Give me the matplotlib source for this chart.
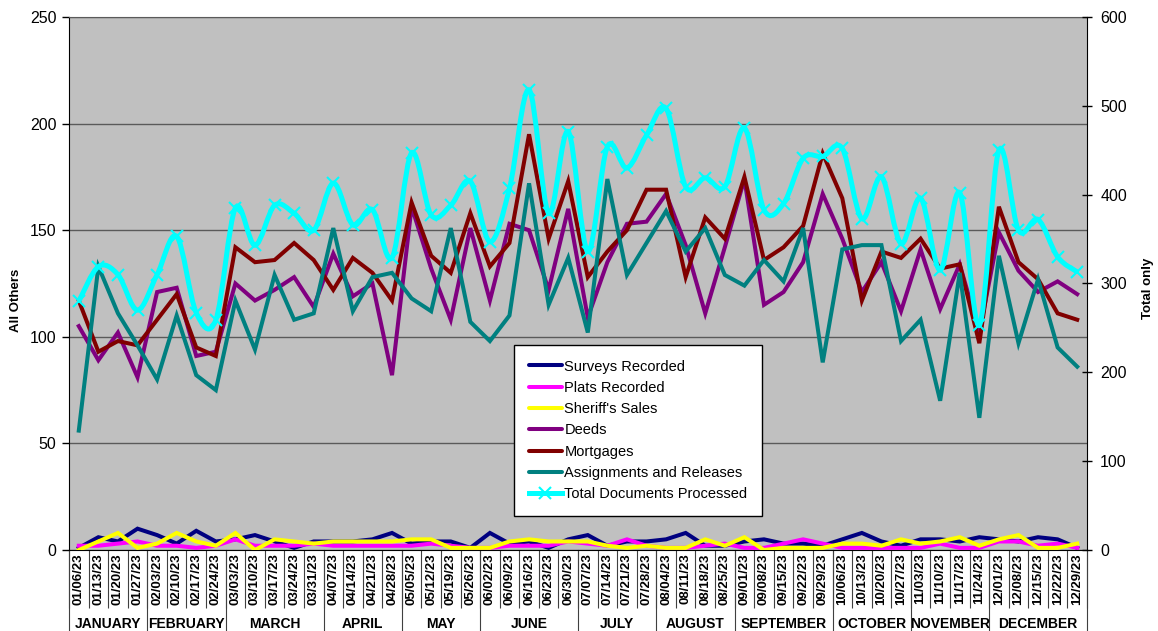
import matplotlib
matplotlib.use('Agg')
import matplotlib.pyplot as plt
from matplotlib.path import Path
from matplotlib.patches import PathPatch
from matplotlib.lines import Line2D
import numpy as np

plt.rcParams['font.family'] = ['Liberation Sans', 'DejaVu Sans']

weeks = ['01/06/23', '01/13/23', '01/20/23', '01/27/23',
         '02/03/23', '02/10/23', '02/17/23', '02/24/23',
         '03/03/23', '03/10/23', '03/17/23', '03/24/23', '03/31/23',
         '04/07/23', '04/14/23', '04/21/23', '04/28/23',
         '05/05/23', '05/12/23', '05/19/23', '05/26/23',
         '06/02/23', '06/09/23', '06/16/23', '06/23/23', '06/30/23',
         '07/07/23', '07/14/23', '07/21/23', '07/28/23',
         '08/04/23', '08/11/23', '08/18/23', '08/25/23',
         '09/01/23', '09/08/23', '09/15/23', '09/22/23', '09/29/23',
         '10/06/23', '10/13/23', '10/20/23', '10/27/23',
         '11/03/23', '11/10/23', '11/17/23', '11/24/23',
         '12/01/23', '12/08/23', '12/15/23', '12/22/23', '12/29/23']
months = ['JANUARY', 'FEBRUARY', 'MARCH', 'APRIL', 'MAY', 'JUNE', 'JULY',
          'AUGUST', 'SEPTEMBER', 'OCTOBER', 'NOVEMBER', 'DECEMBER']
month_weeks = [4, 4, 5, 4, 4, 5, 4, 4, 5, 4, 4, 5]

surveys = [1, 6, 4, 10, 7, 3, 9, 4, 5, 7, 4, 1, 4, 4, 4, 5, 8, 3, 4, 4, 1, 8, 3, 4, 1, 5,
           7, 2, 4, 4, 5, 8, 2, 2, 4, 5, 3, 3, 2, 5, 8, 4, 2, 5, 5, 4, 6, 5, 4, 6, 5, 1]
plats = [2, 2, 3, 4, 2, 2, 1, 2, 5, 2, 2, 2, 3, 2, 2, 2, 2, 2, 3, 2, 1, 1, 2, 2, 2, 4,
         3, 2, 5, 2, 1, 1, 2, 3, 1, 1, 3, 5, 3, 1, 1, 1, 1, 1, 3, 1, 1, 4, 4, 2, 3, 1]
sheriff = [0, 4, 8, 1, 3, 8, 4, 2, 8, 0, 5, 4, 3, 4, 4, 4, 4, 5, 5, 1, 1, 1, 4, 5, 4, 4,
           4, 2, 1, 2, 1, 1, 5, 2, 6, 0, 1, 1, 1, 3, 3, 2, 5, 3, 4, 6, 2, 5, 7, 1, 1, 3]
deeds = [105, 89, 102, 81, 121, 123, 91, 93, 125, 117, 122, 128, 114, 139, 119, 125, 82,
         161, 132, 108, 151, 117, 153, 150, 122, 160, 109, 135, 153, 154, 167, 143, 111,
         142, 174, 115, 121, 135, 167, 146, 121, 135, 112, 141, 113, 134, 102, 149, 131,
         121, 126, 120]
mortgages = [117, 93, 98, 96, 108, 120, 95, 91, 142, 135, 136, 144, 136, 122, 137, 130,
             117, 163, 138, 130, 158, 133, 144, 195, 146, 173, 128, 140, 150, 169, 169,
             128, 156, 146, 175, 136, 142, 152, 186, 165, 117, 140, 137, 146, 132, 134,
             97, 161, 135, 127, 111, 108]
assignments = [56, 133, 111, 96, 80, 110, 82, 75, 117, 94, 129, 108, 111, 151, 112, 128,
               130, 118, 112, 151, 107, 98, 110, 172, 115, 137, 102, 174, 129, 144, 159,
               140, 151, 129, 124, 136, 126, 151, 88, 141, 143, 143, 98, 108, 70, 130, 62,
               138, 97, 127, 95, 86]
total = [280, 319, 310, 270, 310, 353, 267, 259, 385, 343, 388, 379, 360, 413, 366, 383,
         329, 447, 377, 388, 415, 347, 407, 518, 379, 471, 336, 454, 430, 467, 497, 409,
         419, 409, 475, 383, 390, 441, 443, 452, 373, 420, 345, 396, 315, 402, 253, 450,
         360, 372, 330, 313]

W, H = 1158, 631
fig = plt.figure(figsize=(W / 100, H / 100), dpi=100)
fig.patch.set_facecolor('white')
L, R, T, B = 69, 1087, 17, 550
ax = fig.add_axes([L / W, 1 - B / H, (R - L) / W, (B - T) / H])
ax.set_facecolor('#C0C0C0')
ax2 = ax.twinx()

x = np.arange(len(weeks))
lw = 2.9
series = [
    ('Surveys Recorded', surveys, '#000080'),
    ('Plats Recorded', plats, '#FF00FF'),
    ("Sheriff's Sales", sheriff, '#FFFF00'),
    ('Deeds', deeds, '#800080'),
    ('Mortgages', mortgages, '#800000'),
    ('Assignments and Releases', assignments, '#008080'),
]
handles = []
for name, vals, col in series:
    ax.plot(x, vals, color=col, lw=lw, solid_joinstyle='miter', zorder=3)
    handles.append(Line2D([], [], color=col, lw=lw, solid_capstyle='round'))


def smooth_path(xs, ys):
    pts = np.column_stack([xs, ys]).astype(float)
    n = len(pts)
    verts = [pts[0]]
    codes = [Path.MOVETO]
    for i in range(n - 1):
        p0 = pts[i - 1] if i > 0 else pts[i]
        p1 = pts[i]
        p2 = pts[i + 1]
        p3 = pts[i + 2] if i + 2 < n else pts[i + 1]
        verts += [p1 + (p2 - p0) / 6, p2 - (p3 - p1) / 6, p2]
        codes += [Path.CURVE4] * 3
    return Path(verts, codes)


cyan = '#00FFFF'
ax2.add_patch(PathPatch(smooth_path(x, total), facecolor='none', edgecolor=cyan,
                        lw=3.6, zorder=3))
ax2.plot(x, total, linestyle='none', marker='x', color=cyan, ms=9, mew=1.5, zorder=4)
handles.append(Line2D([], [], color=cyan, lw=3.6, marker='x', ms=8, mew=1.5))

ax.set_xlim(-0.5, len(weeks) - 0.5)
ax.set_ylim(0, 250)
ax2.set_ylim(0, 600)
ax.set_yticks(np.arange(0, 251, 50))
ax2.set_yticks(np.arange(0, 601, 100))
ax.tick_params(axis='y', labelsize=11.5, length=5, width=1, direction='out', pad=4)
ax2.tick_params(axis='y', labelsize=11.5, length=7, width=1, direction='inout', pad=6)

ax.yaxis.grid(True, color='#5a5a5a', lw=1)
ax.set_axisbelow(True)

ax.set_xticks(x)
ax.set_xticklabels(weeks, rotation=90, fontweight='bold', fontsize=9.5)
ax.tick_params(axis='x', which='major', length=0, pad=2.5)
ax.set_xticks(np.arange(-0.5, len(weeks), 1), minor=True)
ax.tick_params(axis='x', which='minor', length=42, width=0.8, color='#404040',
               direction='out')

for sp in ['left', 'bottom']:
    ax.spines[sp].set_color('black')
ax.spines['top'].set_color('#5a5a5a')
ax.spines['right'].set_visible(False)
for sp in ['left', 'top', 'bottom']:
    ax2.spines[sp].set_visible(False)
ax2.spines['right'].set_color('black')

trans = ax.get_xaxis_transform()
bounds = np.concatenate([[0], np.cumsum(month_weeks)])
for b in bounds:
    ax.plot([b - 0.5, b - 0.5], [0, -0.16], transform=trans, clip_on=False,
            color='#404040', lw=0.8)
for i, m in enumerate(months):
    c = (bounds[i] + bounds[i + 1] - 1) / 2
    ax.text(c, -0.138, m, transform=trans, ha='center', va='center',
            fontweight='bold', fontsize=10)

fig.text(16 / W, 1 - 300 / H, 'All Others', rotation=90, ha='center', va='center',
         fontweight='bold', fontsize=9.5)
fig.text(1148 / W, 1 - 288 / H, 'Total only', rotation=90, ha='center', va='center',
         fontweight='bold', fontsize=9.5)

labels = [s[0] for s in series] + ['Total Documents Processed']
leg = ax2.legend(handles, labels, loc='upper left',
                 bbox_to_anchor=(514 / W, 1 - 345 / H), bbox_transform=fig.transFigure,
                 fontsize=10.5, frameon=True, fancybox=False, framealpha=1,
                 edgecolor='black', handlelength=2.3, handletextpad=0.15,
                 labelspacing=0.5, borderpad=1.0, borderaxespad=0)
leg.get_frame().set_linewidth(1)
leg.set_zorder(10)

fig.savefig('out.png', dpi=100)
